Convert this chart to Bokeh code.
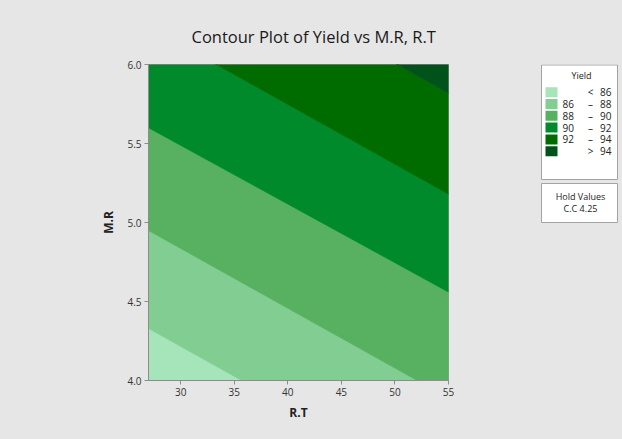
from bokeh.plotting import figure
from bokeh.models import Range1d, NumeralTickFormatter
from bokeh.layouts import row
from bokeh.embed import file_html
from bokeh.resources import INLINE
from bokeh.core.properties import value

# ---- data -------------------------------------------------------------
RT_RANGE = (27.0, 55.0)          # R.T axis extent
MR_RANGE = (4.0, 6.0)            # M.R axis extent
RT_ENDS = [27.0, 55.0]           # R.T positions where each contour line is sampled

# Yield contour levels and the M.R value of each level's line at RT_ENDS
LEVELS = [86, 88, 90, 92, 94]
LEVEL_MR_AT_RT_START = [4.33, 4.95, 5.60, 6.24, 6.88]
LEVEL_MR_AT_RT_END = [3.27, 3.89, 4.56, 5.18, 5.82]
MR_FLOOR, MR_CEIL = 3.0, 7.0     # outer limits of the open-ended bands

BAND_COLORS = ["#a6e4ba", "#82cd92", "#57b160", "#008a2b", "#006c00", "#00521b"]
X_TICKS = [30, 35, 40, 45, 50, 55]
Y_TICKS = [4.0, 4.5, 5.0, 5.5, 6.0]

HOLD_NAME = "C.C"
HOLD_VALUE = 4.25

BG = "#e6e6e6"
FONT = "Open Sans"
TOP, BOTTOM = 64, 59             # border sizes shared by both panels

# ---- contour panel ----------------------------------------------------
p = figure(width=500, height=439,
           x_range=Range1d(*RT_RANGE), y_range=Range1d(*MR_RANGE),
           output_backend="svg", toolbar_location=None,
           min_border_left=148, min_border_right=52,
           min_border_top=TOP, min_border_bottom=BOTTOM)
p.border_fill_color = BG
p.background_fill_color = BG
p.outline_line_color = "#a3a3a3"
p.grid.visible = False

p.title.text = "Contour Plot of Yield vs M.R, R.T"
p.title.align = "left"
p.title.offset = 43
p.title.standoff = 33
p.title.text_font = FONT
p.title.text_font_size = "16.5px"
p.title.text_font_style = "normal"
p.title.text_color = "#1a1a1a"

# filled bands between consecutive contour lines
lower = [[MR_FLOOR, MR_FLOOR]] + [[a, b] for a, b in zip(LEVEL_MR_AT_RT_START, LEVEL_MR_AT_RT_END)]
upper = [[a, b] for a, b in zip(LEVEL_MR_AT_RT_START, LEVEL_MR_AT_RT_END)] + [[MR_CEIL, MR_CEIL]]
for y1, y2, col in zip(lower, upper, BAND_COLORS):
    p.patch(x=RT_ENDS + RT_ENDS[::-1], y=y1 + y2[::-1],
            fill_color=col, line_color=col, line_width=0.8)

for ax in (p.xaxis[0], p.yaxis[0]):
    ax.axis_line_color = "#8c8c8c"
    ax.major_tick_line_color = "#8c8c8c"
    ax.major_tick_out = 4
    ax.major_tick_in = 0
    ax.minor_tick_line_color = None
    ax.major_label_text_font = FONT
    ax.major_label_text_font_size = "10px"
    ax.major_label_text_color = "#333333"
    ax.axis_label_text_font = FONT
    ax.axis_label_text_font_size = "12px"
    ax.axis_label_text_font_style = "bold"
    ax.axis_label_text_color = "#222222"
    ax.major_label_standoff = 3

p.xaxis.ticker = X_TICKS
p.yaxis.ticker = Y_TICKS
p.yaxis.formatter = NumeralTickFormatter(format="0.0")
p.xaxis.axis_label = "R.T"
p.yaxis.axis_label = "M.R"
p.xaxis.axis_label_standoff = 5
p.yaxis.axis_label_standoff = 7

# ---- legend panel (its frame spans page pixels x 500..622, y 64..380) ---
lg = figure(width=122, height=439, x_range=Range1d(500, 622), y_range=Range1d(439 - BOTTOM, TOP),
            output_backend="svg", toolbar_location=None,
            x_axis_location=None, y_axis_location=None,
            min_border_left=0, min_border_right=0,
            min_border_top=TOP, min_border_bottom=BOTTOM)
lg.border_fill_color = BG
lg.background_fill_color = BG
lg.outline_line_color = None
lg.grid.visible = False

lg.quad(left=[541, 541], right=[617, 617], top=[64.5, 183], bottom=[179, 222],
        fill_color="white", line_color="#a3a3a3", line_width=1)

txt = dict(text_font=value(FONT), text_font_size="10px", text_color="#222222",
           text_baseline="middle")
lg.text(x=[581], y=[75], text=["Yield"], text_align="center",
        **{**txt, "text_font_size": "9px"})

left_txt, mid_txt, right_txt = [""], ["<"], [str(LEVELS[0])]
for lo, hi in zip(LEVELS[:-1], LEVELS[1:]):
    left_txt.append(str(lo)); mid_txt.append("–"); right_txt.append(str(hi))
left_txt.append(""); mid_txt.append(">"); right_txt.append(str(LEVELS[-1]))

row_y = [91.7 + 11.8 * i for i in range(len(BAND_COLORS))]
lg.quad(left=545, right=557, top=[y - 5 for y in row_y], bottom=[y + 5 for y in row_y],
        fill_color=BAND_COLORS, line_color=None)
lg.text(x=[562] * len(row_y), y=row_y, text=left_txt, text_align="left", **txt)
lg.text(x=[590] * len(row_y), y=row_y, text=mid_txt, text_align="center", **txt)
lg.text(x=[611] * len(row_y), y=row_y, text=right_txt, text_align="right", **txt)

lg.text(x=[580, 580], y=[196, 208], text=["Hold Values", f"{HOLD_NAME} {HOLD_VALUE:.2f}"],
        text_align="center", **{**txt, "text_font_size": "9px"})

layout = row(p, lg, spacing=0, styles={"background-color": BG})
open("out.html", "w").write(file_html(layout, INLINE))
